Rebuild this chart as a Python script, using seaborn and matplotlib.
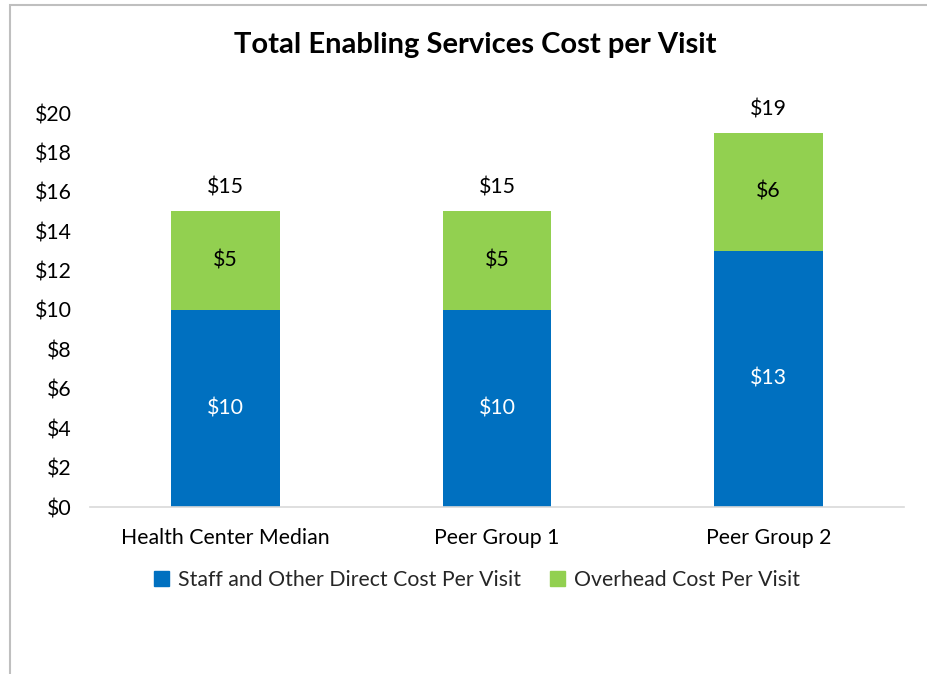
import matplotlib.pyplot as plt
import matplotlib.patches as mpatches
import pandas as pd
import seaborn as sns

# Data
groups = ['Health Center Median', 'Peer Group 1', 'Peer Group 2']
staff_cost = [10, 10, 13]
overhead_cost = [5, 5, 6]
y_ticks = [0, 2, 4, 6, 8, 10, 12, 14, 16, 18, 20]

df = pd.DataFrame({'group': groups, 'staff': staff_cost, 'overhead': overhead_cost})
df['total'] = df['staff'] + df['overhead']

sns.set_style('white')
plt.rcParams['font.family'] = ['Lato', 'DejaVu Sans']

blue = '#0070C0'
green = '#92D050'
fs = 15.3

fig = plt.figure(figsize=(9.28, 6.74), dpi=100)
ax = fig.add_axes([90 / 928, 1 - 507 / 674, 814 / 928, 394 / 674])

# Stacked bars: total (green) underneath, staff (blue) on top
sns.barplot(data=df, x='group', y='total', color=green, width=0.4, saturation=1,
            linewidth=0, ax=ax)
sns.barplot(data=df, x='group', y='staff', color=blue, width=0.4, saturation=1,
            linewidth=0, ax=ax)

ax.set_xlim(-0.5, 2.5)
ax.set_ylim(0, 20)
ax.set_yticks(y_ticks)
ax.set_yticklabels([f'${v}' for v in y_ticks], fontsize=fs, color='#000000')
ax.tick_params(axis='x', labelsize=fs, colors='#000000', pad=15, length=0)
ax.tick_params(axis='y', pad=13, length=0)
ax.set_xlabel('')
ax.set_ylabel('')
for s in ['top', 'right', 'left']:
    ax.spines[s].set_visible(False)
ax.spines['bottom'].set_color('#D9D9D9')
ax.spines['bottom'].set_linewidth(1.2)

# Data labels
for i, row in df.iterrows():
    ax.text(i, row['staff'] / 2, f"${row['staff']}", ha='center', va='center',
            color='white', fontsize=fs)
    ax.text(i, row['staff'] + row['overhead'] / 2, f"${row['overhead']}", ha='center',
            va='center', color='black', fontsize=fs)
    ax.text(i, row['total'] + 1.2, f"${row['total']}", ha='center', va='center',
            color='black', fontsize=fs)

fig.text(475 / 928, 1 - 45 / 674, 'Total Enabling Services Cost per Visit',
         ha='center', va='center', fontsize=21, fontweight='bold', color='#000000')

handles = [mpatches.Patch(color=blue, label='Staff and Other Direct Cost Per Visit'),
           mpatches.Patch(color=green, label='Overhead Cost Per Visit')]
fig.legend(handles=handles, loc='center', bbox_to_anchor=(477 / 928, 1 - 580 / 674),
           ncol=2, frameon=False, fontsize=fs, handlelength=0.7, handleheight=0.7,
           columnspacing=1.4, handletextpad=0.4)

# Chart border (cropped at right and bottom)
border = mpatches.Rectangle((10 / 928, -0.05), 1.1, 1 - 5 / 674 + 0.05,
                            transform=fig.transFigure, fill=False,
                            edgecolor='#BFBFBF', linewidth=1.5)
fig.patches.append(border)

fig.savefig('out.png', dpi=100)
